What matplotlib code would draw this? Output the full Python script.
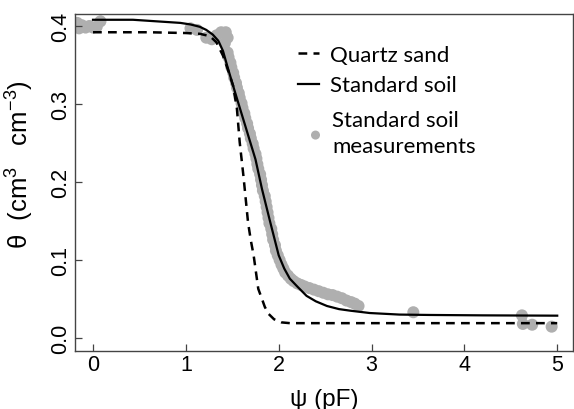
import matplotlib
matplotlib.use("Agg")
import matplotlib.pyplot as plt

plt.rcParams["font.family"] = ["Liberation Sans", "DejaVu Sans"]
plt.rcParams["mathtext.default"] = "regular"

# fitted retention curves (pF, theta)
soil_pf = [0.0, 0.43, 0.94, 1.05, 1.15, 1.22, 1.29, 1.35, 1.40, 1.45,
           1.53, 1.64, 1.75, 1.82, 1.91, 2.0, 2.06, 2.12, 2.20, 2.30,
           2.40, 2.52, 2.65, 2.77, 2.98, 3.3, 3.63, 4.2, 5.0]
soil_theta = [0.408, 0.408, 0.404, 0.402, 0.399, 0.395, 0.389, 0.381, 0.368, 0.347,
              0.315, 0.272, 0.229, 0.191, 0.148, 0.106, 0.089, 0.076, 0.066, 0.054,
              0.047, 0.041, 0.037, 0.035, 0.032, 0.030, 0.0295, 0.029, 0.0286]

sand_pf = [0.0, 0.6, 1.0, 1.15, 1.26, 1.33, 1.40, 1.45, 1.51, 1.55,
           1.58, 1.62, 1.645, 1.67, 1.70, 1.73, 1.78, 1.82, 1.85, 1.89,
           1.95, 2.03, 2.12, 2.5, 5.0]
sand_theta = [0.392, 0.392, 0.391, 0.390, 0.387, 0.379, 0.362, 0.345, 0.323, 0.294,
              0.251, 0.208, 0.178, 0.148, 0.125, 0.106, 0.063, 0.050, 0.040, 0.031,
              0.024, 0.020, 0.019, 0.019, 0.019]

# standard soil measurements (pF, theta)
meas_pf = [-0.17, -0.15, -0.12, -0.08, -0.04, 0.00, 0.04, 0.08,
           1.05, 1.12, 1.22, 1.28, 1.33, 1.38, 1.43, 1.45, 1.42,
           1.45, 1.46, 1.48, 1.49, 1.51, 1.52, 1.54, 1.55, 1.57, 1.58,
           1.60, 1.61, 1.63, 1.64, 1.66, 1.67, 1.69, 1.70, 1.72, 1.73,
           1.75, 1.76, 1.77, 1.78, 1.80, 1.81, 1.82, 1.83, 1.85, 1.86,
           1.87, 1.88, 1.89, 1.90, 1.92, 1.93, 1.94, 1.96, 1.97, 1.99,
           2.01, 2.03, 2.05, 2.07, 2.10, 2.13, 2.16, 2.20, 2.24, 2.28,
           2.33, 2.38, 2.43, 2.48, 2.53, 2.58, 2.63, 2.68, 2.73, 2.78,
           2.82, 2.86,
           3.45, 4.62, 4.63, 4.73, 4.94]
meas_theta = [0.404, 0.397, 0.401, 0.398, 0.400, 0.398, 0.399, 0.406,
              0.397, 0.395, 0.385, 0.383, 0.388, 0.392, 0.392, 0.385, 0.378,
              0.366, 0.360, 0.353, 0.347, 0.340, 0.334, 0.327, 0.321, 0.314, 0.308,
              0.301, 0.295, 0.288, 0.282, 0.275, 0.269, 0.262, 0.256, 0.249, 0.243,
              0.236, 0.230, 0.223, 0.217, 0.210, 0.203, 0.196, 0.189, 0.182, 0.175,
              0.168, 0.161, 0.154, 0.147, 0.140, 0.133, 0.126, 0.119, 0.112, 0.106,
              0.100, 0.094, 0.089, 0.084, 0.080, 0.076, 0.073, 0.070, 0.068, 0.066,
              0.064, 0.062, 0.060, 0.058, 0.056, 0.055, 0.053, 0.051, 0.048, 0.046,
              0.044, 0.041,
              0.033, 0.029, 0.018, 0.017, 0.0145]

x_ticks = [0, 1, 2, 3, 4, 5]
y_ticks = [0.0, 0.1, 0.2, 0.3, 0.4]
y_tick_labels = ["0.0", "0.1", "0.2", "0.3", "0.4"]

LEGEND_FONT = {"family": "Lato", "size": 16}


def main():
    fig = plt.figure(figsize=(5.74, 4.10), dpi=100)
    ax = fig.add_axes([75 / 574, 1 - 352 / 410, 498 / 574, 337 / 410])

    meas = ax.scatter(meas_pf, meas_theta, s=75, color="#afafaf",
                      edgecolors="none", zorder=1,
                      label="Standard soil\nmeasurements")
    sand, = ax.plot(sand_pf, sand_theta, color="black", linewidth=1.8,
                    dashes=(3.5, 2.5), zorder=3, label="Quartz sand")
    soil, = ax.plot(soil_pf, soil_theta, color="black", linewidth=1.6,
                    zorder=2, label="Standard soil")

    ax.set_xlim(-0.194, 5.17)
    ax.set_ylim(-0.0167, 0.4154)
    ax.set_xticks(x_ticks)
    ax.set_yticks(y_ticks, labels=y_tick_labels)

    for spine in ax.spines.values():
        spine.set_color("#444444")
        spine.set_linewidth(1.0)
    ax.tick_params(direction="in", length=5, width=0.9, color="#444444",
                   labelsize=15.5, pad=2.5)
    for lab in ax.get_yticklabels():
        lab.set_rotation(90)
        lab.set_va("center")

    ax.set_xlabel("\u03c8 (pF)", fontsize=17.5, labelpad=9)
    ax.set_ylabel("\u03b8  (cm$^{3}$   cm$^{-3}$)", fontsize=18.5)
    ax.yaxis.set_label_coords(-0.078, 0.555)

    # two legends so the measurement entry can sit a little lower
    leg_lines = ax.legend(handles=[sand, soil],
                          loc="upper left", bbox_to_anchor=(0.448, 0.909),
                          frameon=False, prop=LEGEND_FONT,
                          handlelength=0.95, handletextpad=0.5,
                          labelspacing=0.48, borderpad=0, borderaxespad=0)
    ax.add_artist(leg_lines)
    leg_meas = ax.legend(handles=[meas],
                         loc="upper left", bbox_to_anchor=(0.474, 0.716),
                         frameon=False, prop=LEGEND_FONT,
                         handlelength=0.4, handletextpad=0.55,
                         borderpad=0, borderaxespad=0, markerscale=0.75,
                         scatterpoints=1)
    for txt in leg_meas.get_texts():
        txt.set_linespacing(1.4)

    fig.savefig("out.png", dpi=100)
    plt.close(fig)


if __name__ == "__main__":
    main()
